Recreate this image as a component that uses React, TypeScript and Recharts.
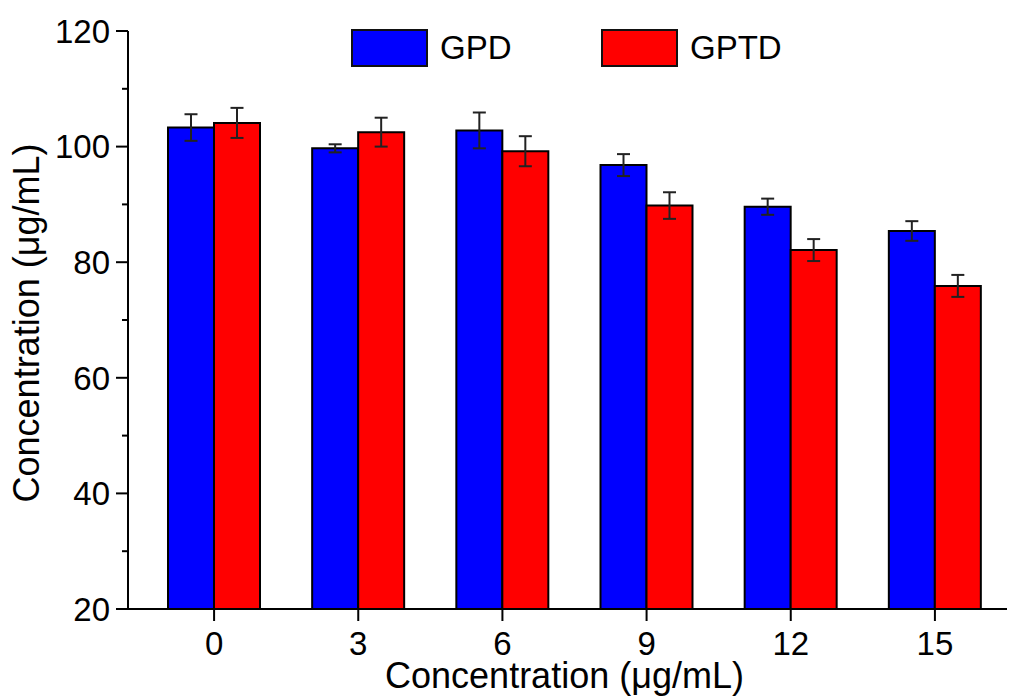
import React from 'react';
import { BarChart, Bar, XAxis, YAxis, ErrorBar, Legend } from 'recharts';

// Categories on the x axis (concentration, µg/mL)
const categories = ['0', '3', '6', '9', '12', '15'];

// Series values and their error bars
const gpdValues = [103.3, 99.7, 102.8, 96.8, 89.6, 85.4];
const gpdErrors = [2.3, 0.7, 3.1, 1.9, 1.4, 1.7];
const gptdValues = [104.1, 102.5, 99.2, 89.8, 82.1, 75.9];
const gptdErrors = [2.6, 2.5, 2.6, 2.3, 1.9, 1.9];

// Y axis ticks: labelled majors every 20, unlabelled minors in between
const yMajorTicks = [20, 40, 60, 80, 100, 120];
const yMinorTicks = [30, 50, 70, 90, 110];

const series = [
  { key: 'GPD', errKey: 'GPDerr', name: 'GPD', color: '#0000FF' },
  { key: 'GPTD', errKey: 'GPTDerr', name: 'GPTD', color: '#FF0000' },
];

const data = categories.map((c, i) => ({
  cat: c,
  GPD: gpdValues[i],
  GPDerr: gpdErrors[i],
  GPTD: gptdValues[i],
  GPTDerr: gptdErrors[i],
}));

const FONT = '"Liberation Sans", Arial, Helvetica, sans-serif';
const TICK_FONT = 33;
const TITLE_FONT = 36;
const Y_TICK_SIZE = 12;
const Y_TICK_MARGIN = 6;

const allYTicks = [...yMajorTicks, ...yMinorTicks].sort((a, b) => a - b);

const YTick = (props: any) => {
  const { x, y, payload } = props;
  const axisX = x + Y_TICK_SIZE + Y_TICK_MARGIN;
  const isMajor = yMajorTicks.includes(payload.value);
  const len = isMajor ? Y_TICK_SIZE : Y_TICK_SIZE / 2;
  return (
    <g>
      <line x1={axisX - len} x2={axisX} y1={y} y2={y} stroke="#000" strokeWidth={2} />
      {isMajor && (
        <text
          x={x}
          y={y}
          dy="0.355em"
          textAnchor="end"
          fontSize={TICK_FONT}
          fontFamily={FONT}
          fill="#000"
        >
          {payload.value}
        </text>
      )}
    </g>
  );
};

const YTitle = (props: any) => {
  const vb = props.viewBox;
  const cx = 39;
  const cy = vb.y + vb.height / 2 + 3;
  return (
    <text
      x={cx}
      y={cy}
      transform={`rotate(-90, ${cx}, ${cy})`}
      textAnchor="middle"
      fontSize={TITLE_FONT}
      fontFamily={FONT}
      fill="#000"
    >
      Concentration (μg/mL)
    </text>
  );
};

const LegendContent = (props: any) => {
  const items = props.payload || [];
  return (
    <div style={{ display: 'flex', flexDirection: 'row', alignItems: 'center' }}>
      {items.map((it: any) => (
        <div
          key={it.value}
          style={{ display: 'flex', alignItems: 'center', width: 250 }}
        >
          <div
            style={{
              width: 73,
              height: 34,
              background: it.color,
              border: '2px solid #111',
              marginRight: 12,
            }}
          />
          <span style={{ fontSize: 33, fontFamily: FONT, color: '#000', lineHeight: '38px' }}>
            {it.value}
          </span>
        </div>
      ))}
    </div>
  );
};

export default function App() {
  return (
    <div style={{ position: 'absolute', left: 0, top: 0, width: 1011, height: 698, background: '#fff' }}>
      <BarChart
        width={1011}
        height={698}
        data={data}
        margin={{ top: 31, right: 4, bottom: 0, left: 0 }}
        barGap={0}
        barSize={46}
      >
        <XAxis
          dataKey="cat"
          height={89}
          padding={{ left: 14, right: 0 }}
          axisLine={{ stroke: '#000', strokeWidth: 2 }}
          tickLine={{ stroke: '#000', strokeWidth: 2 }}
          tickSize={12}
          tickMargin={11}
          tick={{ fontSize: TICK_FONT, fontFamily: FONT, fill: '#000' }}
          label={{
            value: 'Concentration (μg/mL)',
            position: 'insideBottom',
            offset: 10,
            dx: -3,
            fontSize: TITLE_FONT,
            fontFamily: FONT,
            fill: '#000',
          }}
        />
        <YAxis
          width={128}
          domain={[20, 120]}
          ticks={allYTicks}
          interval={0}
          allowDataOverflow
          axisLine={{ stroke: '#000', strokeWidth: 2 }}
          tickLine={false}
          tickSize={Y_TICK_SIZE}
          tickMargin={Y_TICK_MARGIN}
          tick={<YTick />}
          label={<YTitle />}
        />
        <Legend
          layout="horizontal"
          verticalAlign="middle"
          align="center"
          wrapperStyle={{ top: 29, left: 351, width: 520 }}
          content={<LegendContent />}
        />
        {series.map((s) => (
          <Bar
            key={s.key}
            dataKey={s.key}
            name={s.name}
            fill={s.color}
            stroke="#000"
            strokeWidth={2}
            isAnimationActive={false}
          >
            <ErrorBar
              dataKey={s.errKey}
              width={6.5}
              stroke="#222"
              strokeWidth={2}
              direction="y"
            />
          </Bar>
        ))}
      </BarChart>
    </div>
  );
}
